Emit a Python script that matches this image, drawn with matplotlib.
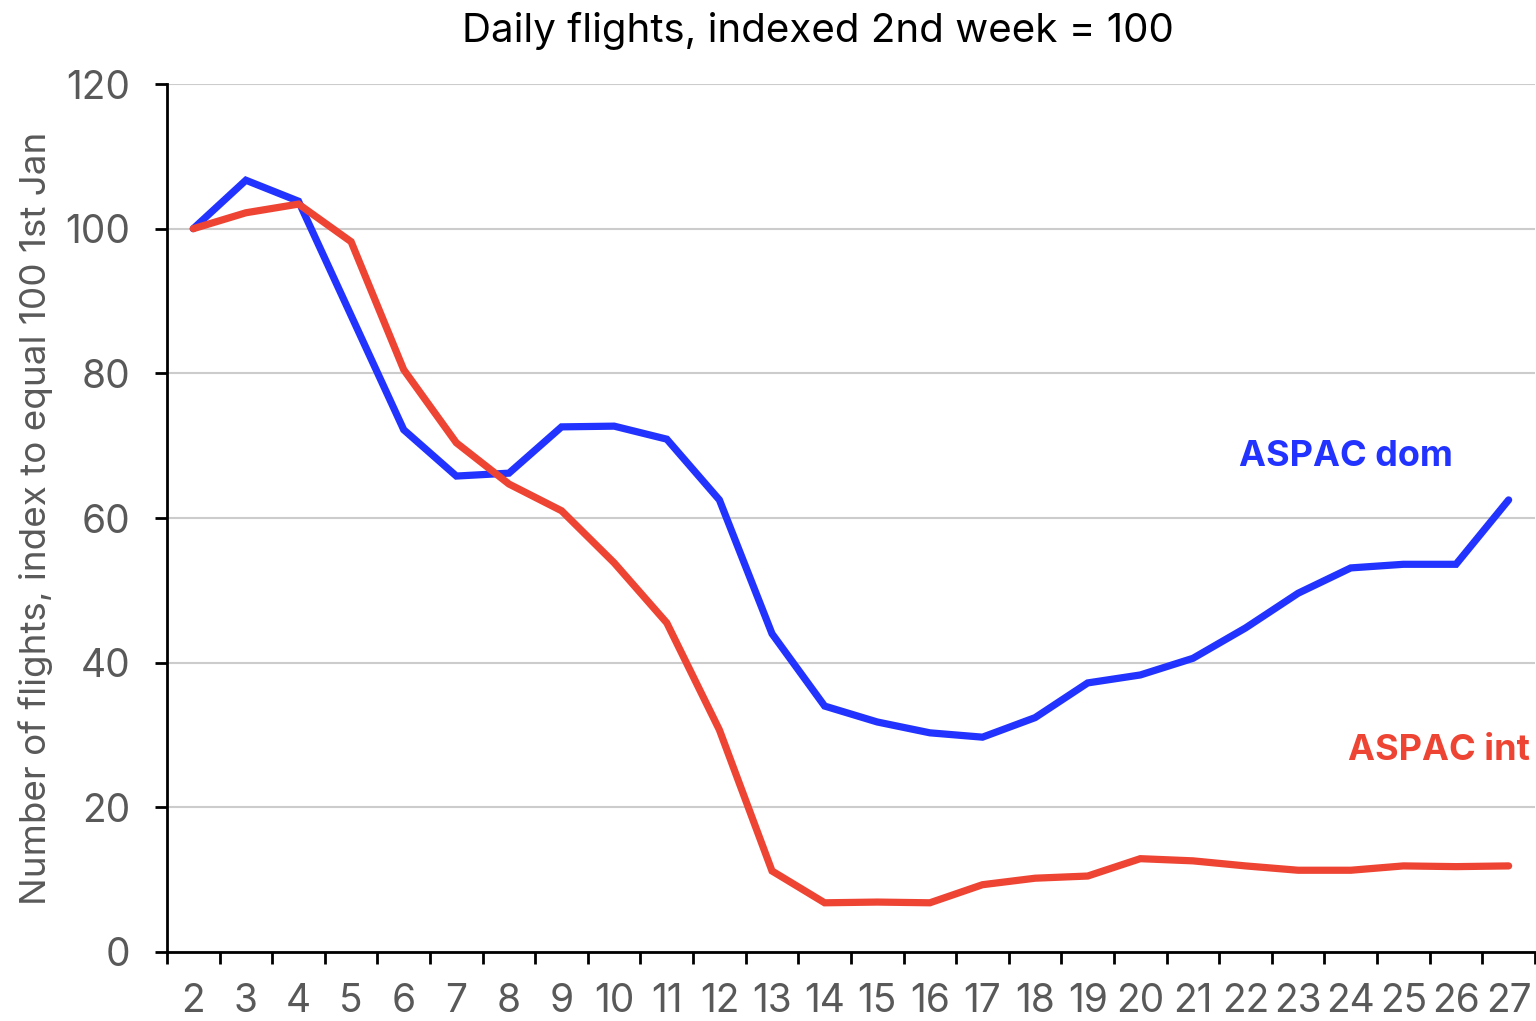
import matplotlib
matplotlib.use("Agg")
from matplotlib import pyplot as plt

weeks = list(range(2, 28))
aspac_dom = [100, 106.7, 103.8, 88, 72.2, 65.8, 66.2, 72.6, 72.7, 70.9, 62.5, 44, 34,
             31.8, 30.3, 29.7, 32.4, 37.2, 38.3, 40.6, 44.8, 49.6, 53.1, 53.6, 53.6, 62.5]
aspac_int = [100, 102.2, 103.4, 98.2, 80.5, 70.4, 64.7, 61, 53.8, 45.5, 30.7, 11.2, 6.8,
             6.9, 6.8, 9.3, 10.2, 10.5, 12.9, 12.6, 11.9, 11.3, 11.3, 11.9, 11.8, 11.9]

blue = '#2233ff'
red = '#ee4433'
grey = '#595959'

plt.rcParams['font.family'] = ['Inter', 'DejaVu Sans']

fig = plt.figure(figsize=(15.36, 10.21), dpi=100)
ax = fig.add_axes([0.1087, 0.0676, 0.8906, 0.8501])

ax.plot(weeks, aspac_dom, color=blue, lw=5.2, solid_capstyle='round', solid_joinstyle='miter', zorder=3)
ax.plot(weeks, aspac_int, color=red, lw=5.2, solid_capstyle='round', solid_joinstyle='miter', zorder=3)

ax.set_xlim(1.5, 27.5)
ax.set_ylim(0, 120)
ax.set_yticks(range(0, 121, 20))
ax.set_xticks(weeks)
ax.set_xticks([w + 0.5 for w in [1] + weeks], minor=True)

ax.grid(axis='y', color='#cccccc', lw=1.5)
ax.set_axisbelow(True)

for s in ['top', 'right']:
    ax.spines[s].set_visible(False)
for s in ['left', 'bottom']:
    ax.spines[s].set_linewidth(2)
    ax.spines[s].set_color('black')

ax.tick_params(axis='y', length=8.5, width=2, pad=18, labelsize=28, labelcolor=grey)
ax.tick_params(axis='x', which='major', length=0, pad=22, labelsize=28, labelcolor=grey)
ax.tick_params(axis='x', which='minor', length=8.5, width=2)

ax.set_ylabel('Number of flights, index to equal 100 1st Jan', fontsize=26.5, color=grey, labelpad=9)
ax.set_title('Daily flights, indexed 2nd week = 100', fontsize=29, color='black', pad=30, x=0.476)

ax.text(21.87, 68.5, 'ASPAC dom', color=blue, fontsize=26, fontweight='bold', va='center', ha='left')
ax.text(27.4, 27.8, 'ASPAC int', color=red, fontsize=26, fontweight='bold', va='center', ha='right')

fig.savefig('out.png', dpi=100)
